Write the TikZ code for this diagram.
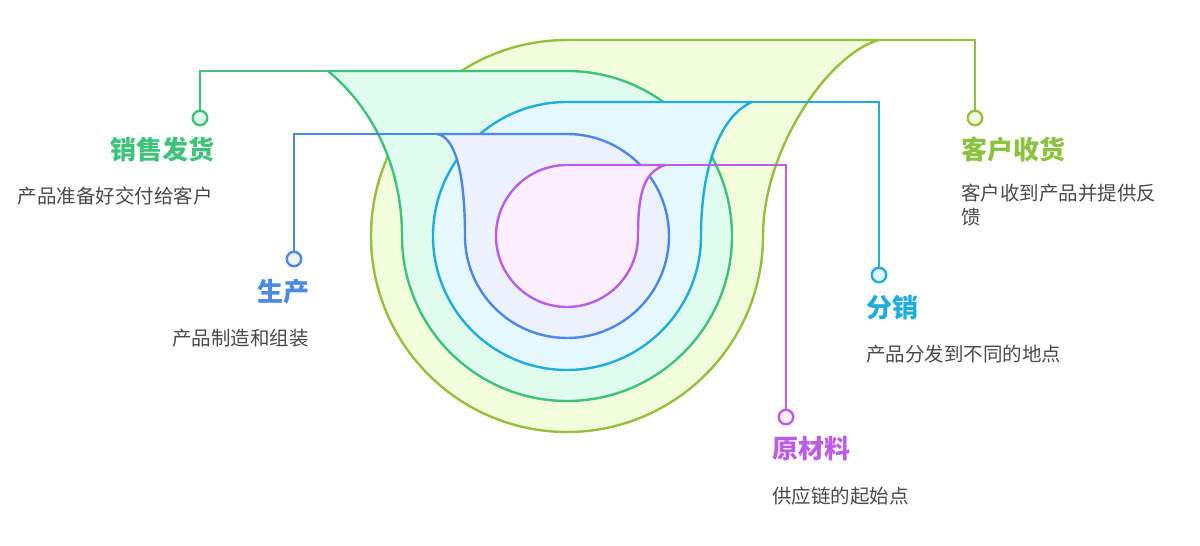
\documentclass[tikz,border=0pt]{standalone}
\usepackage{fontspec}
\newfontfamily\cjk{Noto Sans CJK SC}
\definecolor{limeS}{HTML}{97BF3D}
\definecolor{limeF}{HTML}{F2FDDD}
\definecolor{limeT}{HTML}{8CC23F}
\definecolor{grnS}{HTML}{3FC27C}
\definecolor{grnF}{HTML}{E0FCEF}
\definecolor{cyS}{HTML}{1FAEDC}
\definecolor{cyF}{HTML}{E5F8FE}
\definecolor{blS}{HTML}{4B88E8}
\definecolor{blF}{HTML}{EBF2FE}
\definecolor{puS}{HTML}{BC5DE8}
\definecolor{puF}{HTML}{FBEEFE}
\definecolor{descC}{HTML}{4A4A4A}
\tikzset{
  ring/.style={line width=2.4pt, line join=round},
  conn/.style={line width=2.4pt},
  dot/.style={circle, draw, line width=2.4pt, minimum size=14.5pt, inner sep=0pt},
  ttl/.style={inner sep=0pt, font=\cjk\bfseries\fontsize{26}{30}\selectfont},
  desc/.style={inner sep=0pt, text=descC, font=\cjk\fontsize{19.5}{24}\selectfont},
}
\begin{document}
\begin{tikzpicture}[x=1pt,y=1pt]
\useasboundingbox (0,0) rectangle (1200,546);
% lime (outer)
\coordinate (lf) at (879,506);
\filldraw[ring, draw=limeS, fill=limeF] (lf) -- (567,506) arc[start angle=90, end angle=360, radius=196pt]
  .. controls (763,396) and (828,492) .. (lf) -- cycle;
\node[dot, draw=limeS, fill=limeF] (lc) at (975,428) {};
\draw[conn, limeS] (lf) -| (lc);
% green
\coordinate (gf) at (328,475);
\filldraw[ring, draw=grnS, fill=grnF] (gf) -- (567,475) arc[start angle=90, end angle=-180, radius=165pt]
  .. controls (402,376) and (375,436) .. (gf) -- cycle;
\node[dot, draw=grnS, fill=grnF] (gc) at (200,428) {};
\draw[conn, grnS] (gf) -| (gc);
% cyan
\coordinate (cf) at (752,444);
\filldraw[ring, draw=cyS, fill=cyF] (cf) -- (567,444) arc[start angle=90, end angle=360, radius=134pt]
  .. controls (701,378) and (720,430) .. (cf) -- cycle;
\node[dot, draw=cyS, fill=cyF] (cc) at (879,271) {};
\draw[conn, cyS] (cf) -| (cc);
% blue
\coordinate (bf) at (437,412);
\filldraw[ring, draw=blS, fill=blF] (bf) -- (567,412) arc[start angle=90, end angle=-180, radius=102pt]
  .. controls (465,370) and (456,409) .. (bf) -- cycle;
\node[dot, draw=blS, fill=blF] (bc) at (294,287) {};
\draw[conn, blS] (bf) -| (bc);
% purple
\coordinate (pf) at (665,381);
\filldraw[ring, draw=puS, fill=puF] (pf) -- (567,381) arc[start angle=90, end angle=360, radius=71pt]
  .. controls (638,356) and (645,374) .. (pf) -- cycle;
\node[dot, draw=puS, fill=puF] (pc) at (786,129) {};
\draw[conn, puS] (pf) -| (pc);
% labels
\node[ttl, text=grnS, anchor=east] (t1) at (215,396) {销售发货};
\node[desc, anchor=east] (d1) at (213,350) {产品准备好交付给客户};
\node[ttl, text=blS, anchor=east] (t2) at (310,254) {生产};
\node[desc, anchor=east] (d2) at (309,208) {产品制造和组装};
\node[ttl, text=limeT, anchor=west] (t3) at (961,396) {客户收货};
\node[desc, anchor=west, align=left] (d3) at (961,341) {客户收到产品并提供反\\馈};
\node[ttl, text=cyS, anchor=west] (t4) at (866,238) {分销};
\node[desc, anchor=west] (d4) at (866,192) {产品分发到不同的地点};
\node[ttl, text=puS, anchor=west] (t5) at (772,97) {原材料};
\node[desc, anchor=west] (d5) at (772,50) {供应链的起始点};
\end{tikzpicture}
\end{document}
